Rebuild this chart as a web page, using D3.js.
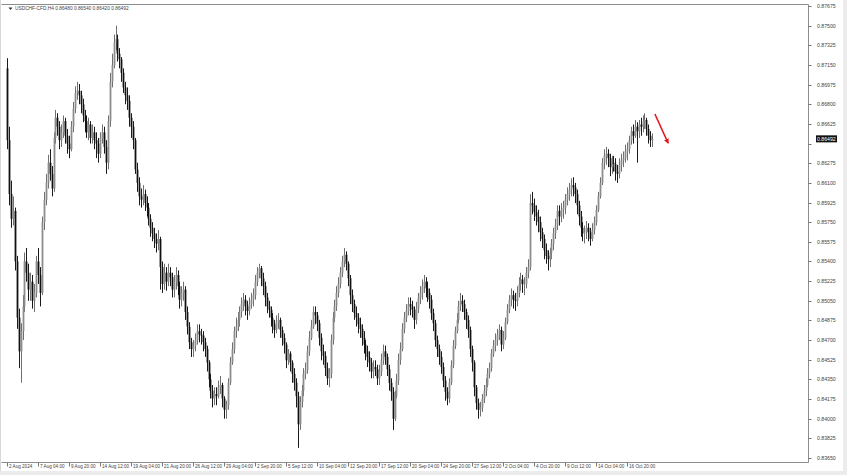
<!DOCTYPE html>
<html><head><meta charset="utf-8">
<script src="https://cdn.jsdelivr.net/npm/d3@7"></script>
<style>html,body{margin:0;padding:0;background:#fff;overflow:hidden}</style>
</head><body><svg id="c" width="847" height="475"></svg>
<script>
const symbolTitle = "USDCHF-CFD,H4";
const headerValues = ["0.86480", "0.86540", "0.86420", "0.86492"];
const lastPrice = 0.86492;
const timeLabels = ["2 Aug 2024","7 Aug 04:00","9 Aug 20:00","14 Aug 12:00","19 Aug 04:00","21 Aug 20:00","26 Aug 12:00","29 Aug 04:00","2 Sep 20:00","5 Sep 12:00","10 Sep 04:00","12 Sep 20:00","17 Sep 12:00","20 Sep 04:00","24 Sep 20:00","27 Sep 12:00","2 Oct 04:00","4 Oct 20:00","9 Oct 12:00","14 Oct 04:00","16 Oct 20:00"];
const timeLabelStep = 16;
const priceTicks = [0.87675,0.87500,0.87325,0.87150,0.86975,0.86800,0.86625,0.86450,0.86275,0.86100,0.85925,0.85750,0.85575,0.85400,0.85225,0.85050,0.84875,0.84700,0.84525,0.84350,0.84175,0.84000,0.83825,0.83650];

const opens = [
0.8712,0.8648,0.8600,0.8578,0.8585,0.8540,0.8490,0.8460,0.8478,0.8500,
0.8540,0.8530,0.8515,0.8522,0.8505,0.8512,0.8540,0.8528,0.8512,0.8575,
0.8595,0.8610,0.8628,0.8618,0.8605,0.8650,0.8668,0.8660,0.8648,0.8655,
0.8665,0.8652,0.8645,0.8640,0.8660,0.8676,0.8690,0.8692,0.8688,0.8680,
0.8670,0.8665,0.8655,0.8662,0.8650,0.8655,0.8648,0.8645,0.8636,0.8650,
0.8655,0.8642,0.8628,0.8665,0.8700,0.8715,0.8735,0.8738,0.8725,0.8720,
0.8708,0.8695,0.8688,0.8683,0.8668,0.8660,0.8648,0.8622,0.8610,0.8598,
0.8595,0.8600,0.8592,0.8588,0.8578,0.8570,0.8565,0.8560,0.8556,0.8560,
0.8535,0.8520,0.8530,0.8522,0.8530,0.8526,0.8515,0.8522,0.8528,0.8518,
0.8506,0.8512,0.8515,0.8495,0.8482,0.8468,0.8462,0.8465,0.8470,0.8478,
0.8475,0.8474,0.8468,0.8462,0.8450,0.8435,0.8425,0.8418,0.8422,0.8420,
0.8428,0.8430,0.8418,0.8408,0.8412,0.8432,0.8450,0.8462,0.8478,0.8482,
0.8488,0.8495,0.8502,0.8506,0.8500,0.8496,0.8502,0.8506,0.8510,0.8522,
0.8530,0.8534,0.8525,0.8518,0.8508,0.8500,0.8497,0.8490,0.8484,0.8479,
0.8486,0.8488,0.8479,0.8472,0.8466,0.8452,0.8458,0.8450,0.8440,0.8432,
0.8420,0.8395,0.8415,0.8425,0.8440,0.8443,0.8460,0.8472,0.8482,0.8495,
0.8492,0.8485,0.8472,0.8460,0.8456,0.8445,0.8436,0.8440,0.8470,0.8490,
0.8500,0.8512,0.8520,0.8530,0.8540,0.8546,0.8538,0.8525,0.8510,0.8502,
0.8494,0.8490,0.8484,0.8480,0.8472,0.8466,0.8460,0.8455,0.8450,0.8442,
0.8446,0.8444,0.8436,0.8442,0.8452,0.8460,0.8455,0.8444,0.8432,0.8424,
0.8400,0.8420,0.8434,0.8452,0.8462,0.8480,0.8490,0.8496,0.8502,0.8500,
0.8497,0.8488,0.8498,0.8508,0.8512,0.8518,0.8522,0.8516,0.8512,0.8506,
0.8494,0.8485,0.8470,0.8462,0.8455,0.8446,0.8434,0.8424,0.8418,0.8432,
0.8448,0.8465,0.8478,0.8488,0.8500,0.8505,0.8502,0.8495,0.8488,0.8479,
0.8462,0.8450,0.8428,0.8414,0.8408,0.8410,0.8418,0.8425,0.8430,0.8440,
0.8445,0.8458,0.8465,0.8470,0.8475,0.8479,0.8466,0.8472,0.8486,0.8497,
0.8506,0.8510,0.8506,0.8505,0.8512,0.8520,0.8524,0.8520,0.8520,0.8530,
0.8535,0.8592,0.8590,0.8584,0.8580,0.8575,0.8566,0.8560,0.8550,0.8545,
0.8542,0.8548,0.8556,0.8565,0.8572,0.8585,0.8580,0.8586,0.8588,0.8595,
0.8600,0.8604,0.8608,0.8606,0.8600,0.8590,0.8580,0.8570,0.8565,0.8566,
0.8570,0.8566,0.8560,0.8568,0.8575,0.8586,0.8598,0.8610,0.8628,0.8634,
0.8636,0.8632,0.8624,0.8628,0.8627,0.8620,0.8618,0.8626,0.8630,0.8632,
0.8638,0.8640,0.8648,0.8656,0.8652,0.8660,0.8656,0.8662,0.8660,0.8665,
0.8666,0.8658,0.8652,0.8648];

const highs = [
0.8721,0.8660,0.8612,0.8598,0.8588,0.8545,0.8498,0.8485,0.8510,0.8548,
0.8552,0.8538,0.8530,0.8528,0.8520,0.8545,0.8552,0.8535,0.8580,0.8602,
0.8618,0.8635,0.8640,0.8625,0.8655,0.8675,0.8672,0.8665,0.8662,0.8670,
0.8668,0.8658,0.8652,0.8665,0.8682,0.8696,0.8700,0.8698,0.8692,0.8685,
0.8675,0.8670,0.8668,0.8665,0.8662,0.8660,0.8655,0.8650,0.8655,0.8662,
0.8660,0.8648,0.8670,0.8708,0.8725,0.8742,0.8750,0.8742,0.8730,0.8722,
0.8712,0.8700,0.8695,0.8688,0.8672,0.8665,0.8650,0.8628,0.8615,0.8605,
0.8608,0.8604,0.8598,0.8592,0.8582,0.8575,0.8570,0.8565,0.8568,0.8562,
0.8540,0.8538,0.8535,0.8538,0.8535,0.8530,0.8528,0.8535,0.8532,0.8522,
0.8518,0.8522,0.8518,0.8500,0.8486,0.8472,0.8470,0.8476,0.8484,0.8484,
0.8480,0.8478,0.8472,0.8465,0.8452,0.8440,0.8430,0.8428,0.8428,0.8434,
0.8438,0.8432,0.8420,0.8416,0.8436,0.8455,0.8468,0.8482,0.8490,0.8495,
0.8500,0.8508,0.8512,0.8510,0.8505,0.8508,0.8512,0.8516,0.8528,0.8535,
0.8538,0.8536,0.8530,0.8522,0.8512,0.8505,0.8500,0.8494,0.8488,0.8492,
0.8494,0.8490,0.8482,0.8476,0.8468,0.8462,0.8460,0.8452,0.8445,0.8436,
0.8424,0.8420,0.8430,0.8445,0.8450,0.8465,0.8478,0.8488,0.8500,0.8500,
0.8495,0.8488,0.8476,0.8466,0.8460,0.8450,0.8445,0.8475,0.8495,0.8506,
0.8518,0.8526,0.8535,0.8545,0.8552,0.8549,0.8540,0.8528,0.8515,0.8506,
0.8500,0.8494,0.8490,0.8484,0.8478,0.8470,0.8465,0.8460,0.8454,0.8452,
0.8452,0.8448,0.8448,0.8458,0.8466,0.8465,0.8458,0.8448,0.8436,0.8428,
0.8425,0.8440,0.8458,0.8468,0.8485,0.8495,0.8502,0.8508,0.8508,0.8505,
0.8500,0.8504,0.8512,0.8518,0.8524,0.8528,0.8526,0.8522,0.8516,0.8510,
0.8498,0.8488,0.8474,0.8466,0.8460,0.8450,0.8438,0.8428,0.8436,0.8452,
0.8470,0.8482,0.8494,0.8505,0.8512,0.8510,0.8506,0.8498,0.8492,0.8482,
0.8465,0.8452,0.8430,0.8418,0.8415,0.8422,0.8430,0.8436,0.8445,0.8450,
0.8462,0.8470,0.8476,0.8480,0.8484,0.8482,0.8478,0.8490,0.8502,0.8510,
0.8516,0.8514,0.8512,0.8518,0.8526,0.8530,0.8528,0.8526,0.8535,0.8542,
0.8600,0.8602,0.8596,0.8590,0.8586,0.8580,0.8570,0.8564,0.8556,0.8550,
0.8552,0.8560,0.8570,0.8578,0.8590,0.8590,0.8592,0.8594,0.8600,0.8606,
0.8610,0.8614,0.8615,0.8610,0.8604,0.8594,0.8585,0.8575,0.8572,0.8576,
0.8574,0.8570,0.8574,0.8580,0.8590,0.8602,0.8615,0.8632,0.8640,0.8642,
0.8640,0.8636,0.8634,0.8634,0.8632,0.8626,0.8632,0.8636,0.8638,0.8644,
0.8646,0.8652,0.8660,0.8662,0.8666,0.8664,0.8666,0.8668,0.8670,0.8672,
0.8668,0.8662,0.8656,0.8654];

const lows = [
0.8640,0.8590,0.8570,0.8572,0.8532,0.8480,0.8445,0.8432,0.8470,0.8495,
0.8522,0.8505,0.8505,0.8498,0.8495,0.8508,0.8520,0.8500,0.8510,0.8568,
0.8590,0.8605,0.8612,0.8598,0.8602,0.8645,0.8652,0.8640,0.8642,0.8650,
0.8645,0.8636,0.8632,0.8638,0.8655,0.8672,0.8684,0.8680,0.8672,0.8664,
0.8655,0.8650,0.8648,0.8645,0.8645,0.8640,0.8632,0.8628,0.8632,0.8645,
0.8636,0.8618,0.8622,0.8660,0.8695,0.8712,0.8728,0.8718,0.8712,0.8700,
0.8690,0.8680,0.8675,0.8660,0.8650,0.8640,0.8618,0.8602,0.8590,0.8588,
0.8590,0.8585,0.8580,0.8572,0.8562,0.8558,0.8552,0.8548,0.8550,0.8515,
0.8512,0.8515,0.8514,0.8518,0.8518,0.8508,0.8508,0.8515,0.8510,0.8498,
0.8500,0.8505,0.8488,0.8475,0.8462,0.8455,0.8455,0.8460,0.8466,0.8468,
0.8466,0.8460,0.8455,0.8442,0.8428,0.8418,0.8410,0.8412,0.8412,0.8418,
0.8422,0.8410,0.8400,0.8400,0.8408,0.8430,0.8448,0.8458,0.8472,0.8478,
0.8482,0.8490,0.8496,0.8492,0.8488,0.8492,0.8498,0.8500,0.8506,0.8518,
0.8525,0.8518,0.8510,0.8500,0.8494,0.8490,0.8482,0.8476,0.8472,0.8476,
0.8480,0.8472,0.8465,0.8458,0.8445,0.8448,0.8442,0.8432,0.8425,0.8410,
0.8374,0.8390,0.8410,0.8420,0.8435,0.8440,0.8456,0.8470,0.8480,0.8484,
0.8478,0.8465,0.8452,0.8448,0.8438,0.8430,0.8428,0.8436,0.8466,0.8486,
0.8496,0.8508,0.8516,0.8526,0.8535,0.8532,0.8518,0.8502,0.8495,0.8488,
0.8482,0.8476,0.8472,0.8465,0.8458,0.8452,0.8446,0.8442,0.8436,0.8436,
0.8438,0.8430,0.8430,0.8438,0.8448,0.8448,0.8438,0.8425,0.8416,0.8390,
0.8398,0.8418,0.8430,0.8448,0.8460,0.8476,0.8486,0.8492,0.8492,0.8490,
0.8480,0.8484,0.8494,0.8502,0.8506,0.8512,0.8508,0.8504,0.8498,0.8488,
0.8478,0.8464,0.8455,0.8448,0.8440,0.8428,0.8416,0.8412,0.8414,0.8430,
0.8445,0.8462,0.8476,0.8485,0.8496,0.8495,0.8488,0.8480,0.8472,0.8455,
0.8442,0.8420,0.8408,0.8400,0.8402,0.8406,0.8414,0.8420,0.8428,0.8436,
0.8442,0.8455,0.8460,0.8465,0.8470,0.8460,0.8462,0.8470,0.8484,0.8494,
0.8500,0.8498,0.8496,0.8500,0.8508,0.8514,0.8512,0.8510,0.8516,0.8525,
0.8532,0.8582,0.8576,0.8572,0.8566,0.8558,0.8552,0.8542,0.8538,0.8532,
0.8535,0.8542,0.8550,0.8560,0.8568,0.8572,0.8575,0.8578,0.8582,0.8590,
0.8594,0.8598,0.8598,0.8592,0.8582,0.8572,0.8562,0.8558,0.8556,0.8560,
0.8558,0.8554,0.8558,0.8564,0.8572,0.8584,0.8596,0.8608,0.8622,0.8626,
0.8624,0.8616,0.8618,0.8620,0.8612,0.8610,0.8614,0.8620,0.8624,0.8628,
0.8630,0.8636,0.8644,0.8645,0.8650,0.8628,0.8650,0.8652,0.8655,0.8658,
0.8652,0.8645,0.8642,0.8642];

const closes = [
0.8648,0.8600,0.8578,0.8585,0.8540,0.8490,0.8460,0.8478,0.8500,0.8540,
0.8530,0.8515,0.8522,0.8505,0.8512,0.8540,0.8528,0.8512,0.8575,0.8595,
0.8610,0.8628,0.8618,0.8605,0.8650,0.8668,0.8660,0.8648,0.8655,0.8665,
0.8652,0.8645,0.8640,0.8660,0.8676,0.8690,0.8692,0.8688,0.8680,0.8670,
0.8665,0.8655,0.8662,0.8650,0.8655,0.8648,0.8645,0.8636,0.8650,0.8655,
0.8642,0.8628,0.8665,0.8700,0.8715,0.8735,0.8738,0.8725,0.8720,0.8708,
0.8695,0.8688,0.8683,0.8668,0.8660,0.8648,0.8622,0.8610,0.8598,0.8595,
0.8600,0.8592,0.8588,0.8578,0.8570,0.8565,0.8560,0.8556,0.8560,0.8535,
0.8520,0.8530,0.8522,0.8530,0.8526,0.8515,0.8522,0.8528,0.8518,0.8506,
0.8512,0.8515,0.8495,0.8482,0.8468,0.8462,0.8465,0.8470,0.8478,0.8475,
0.8474,0.8468,0.8462,0.8450,0.8435,0.8425,0.8418,0.8422,0.8420,0.8428,
0.8430,0.8418,0.8408,0.8412,0.8432,0.8450,0.8462,0.8478,0.8482,0.8488,
0.8495,0.8502,0.8506,0.8500,0.8496,0.8502,0.8506,0.8510,0.8522,0.8530,
0.8534,0.8525,0.8518,0.8508,0.8500,0.8497,0.8490,0.8484,0.8479,0.8486,
0.8488,0.8479,0.8472,0.8466,0.8452,0.8458,0.8450,0.8440,0.8432,0.8420,
0.8395,0.8415,0.8425,0.8440,0.8443,0.8460,0.8472,0.8482,0.8495,0.8492,
0.8485,0.8472,0.8460,0.8456,0.8445,0.8436,0.8440,0.8470,0.8490,0.8500,
0.8512,0.8520,0.8530,0.8540,0.8546,0.8538,0.8525,0.8510,0.8502,0.8494,
0.8490,0.8484,0.8480,0.8472,0.8466,0.8460,0.8455,0.8450,0.8442,0.8446,
0.8444,0.8436,0.8442,0.8452,0.8460,0.8455,0.8444,0.8432,0.8424,0.8400,
0.8420,0.8434,0.8452,0.8462,0.8480,0.8490,0.8496,0.8502,0.8500,0.8497,
0.8488,0.8498,0.8508,0.8512,0.8518,0.8522,0.8516,0.8512,0.8506,0.8494,
0.8485,0.8470,0.8462,0.8455,0.8446,0.8434,0.8424,0.8418,0.8432,0.8448,
0.8465,0.8478,0.8488,0.8500,0.8505,0.8502,0.8495,0.8488,0.8479,0.8462,
0.8450,0.8428,0.8414,0.8408,0.8410,0.8418,0.8425,0.8430,0.8440,0.8445,
0.8458,0.8465,0.8470,0.8475,0.8479,0.8466,0.8472,0.8486,0.8497,0.8506,
0.8510,0.8506,0.8505,0.8512,0.8520,0.8524,0.8520,0.8520,0.8530,0.8535,
0.8592,0.8590,0.8584,0.8580,0.8575,0.8566,0.8560,0.8550,0.8545,0.8542,
0.8548,0.8556,0.8565,0.8572,0.8585,0.8580,0.8586,0.8588,0.8595,0.8600,
0.8604,0.8608,0.8606,0.8600,0.8590,0.8580,0.8570,0.8565,0.8566,0.8570,
0.8566,0.8560,0.8568,0.8575,0.8586,0.8598,0.8610,0.8628,0.8634,0.8636,
0.8632,0.8624,0.8628,0.8627,0.8620,0.8618,0.8626,0.8630,0.8632,0.8638,
0.8640,0.8648,0.8656,0.8652,0.8660,0.8656,0.8662,0.8660,0.8665,0.8666,
0.8658,0.8652,0.8648,0.8649];

const arrowFrom = {bar: 334.4, price: 0.86713};
const arrowTo = {bar: 341.2, price: 0.86455};

const svg = d3.select("#c");
const frame = {left: 1.5, top: 4.5, right: 808.5, bottom: 462.5};

// outer light strips
svg.append("rect").attr("x", 0).attr("y", 0).attr("width", 847).attr("height", 475).attr("fill", "#fff");
svg.append("rect").attr("x", 843).attr("y", 0).attr("width", 4).attr("height", 475).attr("fill", "#ececec");
svg.append("rect").attr("x", 0).attr("y", 471).attr("width", 847).attr("height", 4).attr("fill", "#ececec");
svg.append("line").attr("x1", 0.5).attr("x2", 0.5).attr("y1", 0).attr("y2", 471).attr("stroke", "#d8d8d8");

const x = d3.scaleLinear().domain([0, closes.length - 1]).range([7, 7 + (closes.length - 1) * 1.9375]);
const y = d3.scaleLinear().domain([0.83650, 0.87675]).range([458, 6]);

// bars
const bars = d3.range(closes.length).map(i => ({i, o: opens[i], h: highs[i], l: lows[i], c: closes[i]}));
const g = svg.append("g");
g.selectAll("line.w").data(bars).join("line")
  .attr("x1", d => Math.round(x(d.i)) + 0.5).attr("x2", d => Math.round(x(d.i)) + 0.5)
  .attr("y1", d => y(d.h)).attr("y2", d => y(d.l))
  .attr("stroke", d => d.c >= d.o ? "#707070" : "#1a1a1a").attr("stroke-width", 1);
g.selectAll("rect.b").data(bars).join("rect")
  .attr("x", d => Math.round(x(d.i)) - 0.4).attr("width", 1.8)
  .attr("y", d => y(Math.max(d.o, d.c)))
  .attr("height", d => Math.max(0.8, Math.abs(y(d.o) - y(d.c))))
  .attr("fill", d => d.c >= d.o ? "#8c8c8c" : "#111");

// frame
svg.append("path")
  .attr("d", `M${frame.left},${frame.top}H${frame.right}V${frame.bottom}H${frame.left}`)
  .attr("fill", "none").attr("stroke", "#8c8c8c").attr("stroke-width", 1);

// price axis
const pa = svg.append("g");
const ly = y(lastPrice);
priceTicks.forEach(v => {
  const yy = Math.round(y(v)) + 0.5;
  pa.append("line").attr("x1", frame.right).attr("x2", frame.right + 3).attr("y1", yy).attr("y2", yy).attr("stroke", "#777");
  if (Math.abs(yy - ly) < 9) return;
  pa.append("text").attr("x", 817).attr("y", yy).attr("dy", "0.35em")
    .attr("font-family", "Liberation Sans, Arial, sans-serif").attr("font-size", 5.2).attr("fill", "#444")
    .text(v.toFixed(5));
});
// last price box
pa.append("rect").attr("x", 816).attr("y", ly - 3.5).attr("width", 21).attr("height", 7).attr("fill", "#111");
pa.append("text").attr("x", 817).attr("y", ly).attr("dy", "0.35em")
  .attr("font-family", "Liberation Sans, Arial, sans-serif").attr("font-size", 5.2).attr("fill", "#fff")
  .text(lastPrice.toFixed(5));

// time axis
const ta = svg.append("g");
timeLabels.forEach((t, k) => {
  const xx = Math.round(x(k * timeLabelStep)) + 0.5;
  ta.append("line").attr("x1", xx).attr("x2", xx).attr("y1", frame.bottom).attr("y2", frame.bottom + 4).attr("stroke", "#777");
  ta.append("text").attr("x", xx + 1.5).attr("y", 468)
    .attr("font-family", "Liberation Sans, Arial, sans-serif").attr("font-size", 4.6).attr("fill", "#444")
    .text(t);
});

// header
svg.append("path").attr("d", "M8.5,7.5 L12.5,7.5 L10.5,10 Z").attr("fill", "#333");
svg.append("text").attr("x", 15).attr("y", 10.3)
  .attr("font-family", "Liberation Sans, Arial, sans-serif").attr("font-size", 4.8).attr("fill", "#444")
  .text(symbolTitle + "  " + headerValues.join(" "));

// red arrow annotation
const defs = svg.append("defs");
defs.append("marker").attr("id", "ah").attr("viewBox", "0 0 10 10").attr("refX", 8).attr("refY", 5)
  .attr("markerWidth", 3.2).attr("markerHeight", 3.2).attr("orient", "auto")
  .append("path").attr("d", "M0,0 L10,5 L0,10 Z").attr("fill", "#e3161d");
svg.append("line")
  .attr("x1", x(arrowFrom.bar)).attr("y1", y(arrowFrom.price))
  .attr("x2", x(arrowTo.bar)).attr("y2", y(arrowTo.price))
  .attr("stroke", "#e3161d").attr("stroke-width", 1.6).attr("marker-end", "url(#ah)");
</script>
</body></html>
